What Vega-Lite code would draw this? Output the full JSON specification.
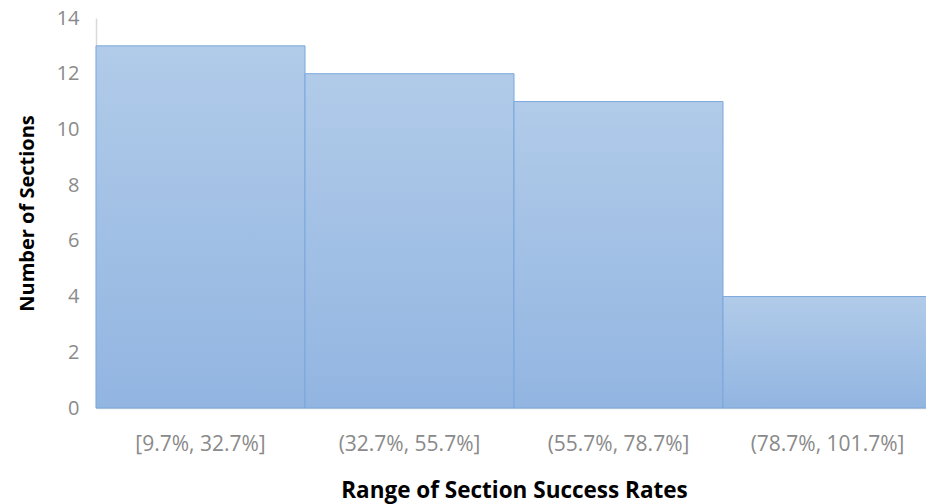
{
  "$schema": "https://vega.github.io/schema/vega-lite/v6.json",
  "autosize": "none",
  "width": 836,
  "height": 390,
  "padding": {"left": 96, "top": 18, "right": 0, "bottom": 96},
  "background": "white",
  "data": {
    "values": [
      {"range": "[9.7%, 32.7%]", "count": 13},
      {"range": "(32.7%, 55.7%]", "count": 12},
      {"range": "(55.7%, 78.7%]", "count": 11},
      {"range": "(78.7%, 101.7%]", "count": 4}
    ]
  },
  "config": {
    "view": {"stroke": null},
    "font": "Open Sans"
  },
  "mark": {
    "type": "bar",
    "color": {
      "gradient": "linear",
      "x1": 0, "y1": 0, "x2": 0, "y2": 1,
      "stops": [
        {"offset": 0, "color": "#b1cbe9"},
        {"offset": 1, "color": "#92b5e1"}
      ]
    },
    "stroke": "#7ba7dc",
    "strokeWidth": 1
  },
  "encoding": {
    "x": {
      "field": "range",
      "type": "ordinal",
      "sort": null,
      "scale": {"paddingInner": 0, "paddingOuter": 0},
      "axis": {
        "title": "Range of Section Success Rates",
        "titleFont": "Open Sans",
        "titleFontWeight": "bold",
        "titleFontSize": 22.5,
        "titleColor": "#000000",
        "titlePadding": 25,
        "labelAngle": 0,
        "labelFont": "Open Sans",
        "labelFontSize": 21,
        "labelColor": "#8a8a8a",
        "labelPadding": 25,
        "ticks": false,
        "domainColor": "#d9d9d9",
        "domainWidth": 1.5
      }
    },
    "y": {
      "field": "count",
      "type": "quantitative",
      "scale": {"domain": [0, 14], "nice": false},
      "axis": {
        "title": "Number of Sections",
        "titleFont": "Open Sans",
        "titleFontWeight": "bold",
        "titleFontSize": 20,
        "titleColor": "#000000",
        "titlePadding": 19,
        "values": [0, 2, 4, 6, 8, 10, 12, 14],
        "labelFont": "Open Sans",
        "labelFontSize": 20,
        "labelColor": "#8a8a8a",
        "labelPadding": 17,
        "ticks": false,
        "grid": false,
        "domainColor": "#d9d9d9",
        "domainWidth": 1.5
      }
    }
  }
}
